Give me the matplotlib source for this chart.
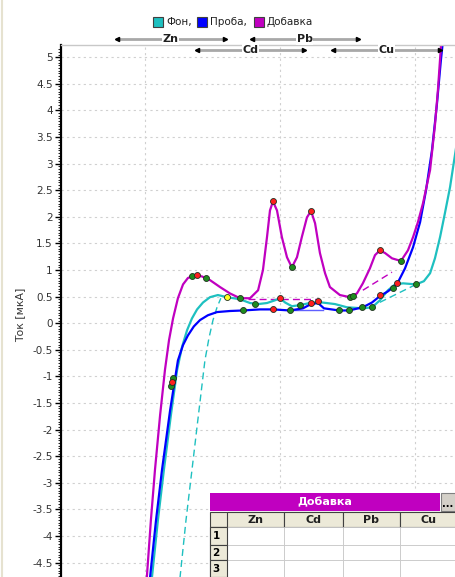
import numpy as np
import matplotlib
matplotlib.use('Agg')
from matplotlib import pyplot as plt
from matplotlib.patches import Rectangle
from matplotlib.lines import Line2D
from matplotlib.transforms import blended_transform_factory

W, H = 456, 577

# --- data (potential, V / current, uA) ---
fon_x = [-0.993, -0.974, -0.952, -0.930, -0.904, -0.881, -0.863, -0.844, -0.826, -0.807, -0.785, -0.759,
         -0.730, -0.696, -0.648, -0.611, -0.581, -0.548, -0.519, -0.500, -0.481, -0.456, -0.426, -0.381,
         -0.344, -0.296, -0.252, -0.193, -0.159, -0.130, -0.100, -0.074, -0.044, 0.004, 0.033, 0.056,
         0.074, 0.093, 0.111, 0.130, 0.152, 0.167]
fon_y = [-5.58, -4.77, -3.70, -2.76, -1.73, -0.88, -0.45, -0.13, 0.09, 0.26, 0.39, 0.49,
         0.53, 0.49, 0.45, 0.38, 0.36, 0.38, 0.43, 0.47, 0.39, 0.32, 0.34, 0.39,
         0.39, 0.36, 0.30, 0.28, 0.30, 0.43, 0.62, 0.73, 0.75, 0.73, 0.79, 0.94,
         1.22, 1.62, 2.07, 2.56, 3.29, 3.80]

proba_x = [-1.000, -0.981, -0.959, -0.937, -0.907, -0.878, -0.859, -0.841, -0.819, -0.796, -0.767, -0.733,
           -0.685, -0.637, -0.574, -0.526, -0.463, -0.415, -0.385, -0.359, -0.337, -0.281, -0.244, -0.193,
           -0.159, -0.130, -0.100, -0.067, -0.037, -0.007, 0.019, 0.041, 0.063, 0.081, 0.096, 0.104]
proba_y = [-5.58, -4.77, -3.70, -2.76, -1.64, -0.70, -0.41, -0.23, -0.06, 0.06, 0.15, 0.21,
           0.23, 0.24, 0.26, 0.26, 0.24, 0.28, 0.36, 0.38, 0.28, 0.24, 0.24, 0.30,
           0.39, 0.51, 0.60, 0.73, 1.03, 1.43, 1.90, 2.50, 3.25, 4.10, 4.94, 5.32]

dob_x = [-1.007, -0.993, -0.978, -0.963, -0.944, -0.926, -0.911, -0.896, -0.878, -0.859, -0.841, -0.815,
         -0.789, -0.759, -0.722, -0.685, -0.648, -0.611, -0.581, -0.563, -0.548, -0.537, -0.526, -0.511,
         -0.493, -0.474, -0.456, -0.437, -0.419, -0.400, -0.385, -0.370, -0.352, -0.333, -0.315, -0.278,
         -0.241, -0.215, -0.193, -0.167, -0.148, -0.130, -0.111, -0.085, -0.052, -0.026, -0.007, 0.011,
         0.030, 0.056, 0.074, 0.085, 0.096, 0.100]
dob_y = [-5.58, -4.77, -3.70, -2.76, -1.73, -0.88, -0.32, 0.09, 0.47, 0.73, 0.85, 0.90,
         0.88, 0.81, 0.68, 0.56, 0.47, 0.47, 0.62, 1.00, 1.62, 2.12, 2.29, 2.12,
         1.62, 1.24, 1.05, 1.24, 1.62, 1.99, 2.11, 1.88, 1.32, 0.94, 0.68, 0.53,
         0.49, 0.56, 0.75, 1.03, 1.28, 1.37, 1.32, 1.22, 1.17, 1.37, 1.62, 1.90,
         2.26, 2.88, 3.72, 4.38, 5.19, 5.50]

# baselines (dashed)
fon_base1_x = [-0.893, -0.870, -0.848, -0.826, -0.800, -0.778, -0.763, -0.748, -0.733, -0.719]
fon_base1_y = [-5.58, -4.77, -3.70, -2.76, -1.64, -0.70, -0.28, 0.06, 0.30, 0.47]
fon_base2_x = [-0.167, 0.004]
fon_base2_y = [0.30, 0.73]
dob_base1_x = [-0.619, -0.363]
dob_base1_y = [0.45, 0.45]
dob_base2_x = [-0.193, -0.085]
dob_base2_y = [0.62, 0.96]
proba_base_x = [-0.470, -0.340]
proba_base_y = [0.25, 0.25]

# marked points
green_x = [-0.826, -0.774, -0.648, -0.456, -0.241, -0.230, -0.052,
           -0.637, -0.463, -0.281, -0.244, -0.081,
           -0.593, -0.426, -0.196, -0.159, 0.004, -0.895, -0.905]
green_y = [0.88, 0.85, 0.47, 1.05, 0.49, 0.51, 1.17,
           0.24, 0.24, 0.24, 0.24, 0.66,
           0.36, 0.34, 0.30, 0.30, 0.73, -1.02, -1.18]
red_x = [-0.807, -0.526, -0.385, -0.130, -0.526, -0.385, -0.359, -0.130, -0.067, -0.500, -0.901]
red_y = [0.90, 2.29, 2.11, 1.37, 0.26, 0.38, 0.41, 0.53, 0.75, 0.47, -1.10]
yellow_x = [-0.696]
yellow_y = [0.49]

elements = ['Zn', 'Cd', 'Pb', 'Cu']
range_lo = [-1.104, -0.807, -0.604, -0.304]
range_hi = [-0.704, -0.411, -0.211, 0.093]
range_row = [0, 1, 0, 1]

legend_names = ['Фон,', 'Проба,', 'Добавка']
c_fon, c_proba, c_dob = '#1EC0C0', '#0000FF', '#C000C0'
legend_colors = [c_fon, c_proba, c_dob]

plt.rcParams['font.family'] = ['DejaVu Sans']

fig = plt.figure(figsize=(W / 100, H / 100), dpi=100)
ax = fig.add_axes([61 / W, 0, (W - 61) / W, (H - 45) / H])
ax.set_xlim(-1.311, 0.152)
ax.set_ylim(-4.77, 5.23)

ax.plot(fon_base1_x, fon_base1_y, color=c_fon, lw=1.0, ls=(0, (5, 3)))
ax.plot(fon_base2_x, fon_base2_y, color=c_fon, lw=1.0, ls=(0, (5, 3)))
ax.plot(dob_base1_x, dob_base1_y, color=c_dob, lw=1.0, ls=(0, (5, 3)))
ax.plot(dob_base2_x, dob_base2_y, color=c_dob, lw=1.0, ls=(0, (5, 3)))
ax.plot(proba_base_x, proba_base_y, color='#6060FF', lw=1.0)
ax.plot(fon_x, fon_y, color=c_fon, lw=1.6)
ax.plot(proba_x, proba_y, color=c_proba, lw=1.6)
ax.plot(dob_x, dob_y, color=c_dob, lw=1.6)

mk = dict(ls='none', marker='o', ms=4.3, mec='#203020', mew=0.6, zorder=5)
ax.plot(green_x, green_y, mfc='#1E8C1E', **mk)
ax.plot(red_x, red_y, mfc='#FF1E1E', **mk)
ax.plot(yellow_x, yellow_y, mfc='#FFFF20', **mk)

# axes cosmetics
ax.set_yticks(np.arange(-4.5, 5.01, 0.5))
ax.set_yticklabels([('%g' % v) for v in np.arange(-4.5, 5.01, 0.5)])
ax.set_yticks(np.arange(-4.75, 5.2, 0.05), minor=True)
ax.set_xticks([-1.0, -0.5, 0.0])
ax.set_xticklabels([])
ax.tick_params(axis='x', length=0)
ax.tick_params(axis='y', which='major', length=4, width=1, labelsize=7.5, labelcolor='#333333', pad=2)
ax.tick_params(axis='y', which='minor', length=2, width=0.6)
ax.grid(True, color='#D0D0D0', lw=0.8, ls=(0, (2, 3)))
ax.set_axisbelow(True)
for s in ['right', 'bottom']:
    ax.spines[s].set_visible(False)
ax.spines['left'].set_linewidth(1.6)
ax.spines['top'].set_color('#C8C8C8')
ax.spines['top'].set_linewidth(1.0)
ax.set_ylabel('Ток [мкА]', fontsize=7.8, color='#333333', labelpad=4)
ax.yaxis.set_label_coords(-0.092, 0.492)

# element windows on top
tr = blended_transform_factory(ax.transData, fig.transFigure)
for el, lo, hi, row in zip(elements, range_lo, range_hi, range_row):
    yy = 1 - (39 + 11 * row) / H
    fig.add_artist(Line2D([lo, hi], [yy, yy], transform=tr, color='#A8A8A8', lw=2))
    fig.add_artist(Line2D([lo], [yy], transform=tr, marker='<', ms=3, color='black', ls='none'))
    fig.add_artist(Line2D([hi], [yy], transform=tr, marker='>', ms=3, color='black', ls='none'))
    fig.text((lo + hi) / 2, yy, el, transform=tr, ha='center', va='center', fontsize=8,
             fontweight='bold', color='#202020',
             bbox=dict(boxstyle='square,pad=0.05', fc='white', ec='none'))

# legend
leg_x = [153, 197, 254]
for x0, name, col in zip(leg_x, legend_names, legend_colors):
    fig.add_artist(Rectangle((x0 / W, 1 - 27 / H), 10 / W, 10 / H, transform=fig.transFigure,
                             fc=col, ec='#404040', lw=0.8))
    fig.text((x0 + 13) / W, 1 - 22 / H, name, ha='left', va='center', fontsize=7.5, color='#202020')


# table
def rect(x0, y0, x1, y1, fc, ec='none', lw=0.8):
    fig.add_artist(Rectangle((x0 / W, 1 - y1 / H), (x1 - x0) / W, (y1 - y0) / H,
                             transform=fig.transFigure, fc=fc, ec=ec, lw=lw, zorder=10))


def ftext(x, y, s, **kw):
    fig.text(x / W, 1 - y / H, s, ha='center', va='center', zorder=11, **kw)


rect(209, 492, 456, 577, 'white')
rect(210, 493, 440, 511, c_dob)
ftext(325, 502, 'Добавка', color='white', fontsize=8, fontweight='bold')
rect(441, 493, 456, 511, '#D4D0C8', ec='#808080')
ftext(448, 504, '...', fontsize=7, fontweight='bold')
col_edges = [227, 284, 343, 400, 458]
row_edges = [527, 545, 560, 577]
rect(210, 512, 456, 527, '#ECE9D8', ec='#404040')
rect(210, 527, 227, 577, '#ECE9D8', ec='#404040')
for i, el in enumerate(elements):
    rect(col_edges[i], 512, col_edges[i + 1], 527, '#ECE9D8', ec='#404040')
    ftext((col_edges[i] + col_edges[i + 1]) / 2, 520, el, fontsize=8, fontweight='bold', color='#202020')
    for r in range(3):
        rect(col_edges[i], row_edges[r], col_edges[i + 1], row_edges[r + 1], 'white', ec='#C8C8C8', lw=0.6)
for r in range(3):
    rect(210, row_edges[r], 227, row_edges[r + 1], '#ECE9D8', ec='#404040', lw=0.8)
    ftext(216, (row_edges[r] + row_edges[r + 1]) / 2, str(r + 1), fontsize=7.5, fontweight='bold')

# panel edge on the left
fig.add_artist(Line2D([2 / W, 2 / W], [0, 1], transform=fig.transFigure, color='#E6E2D0', lw=1.5))

plt.savefig('out.png', dpi=100)
